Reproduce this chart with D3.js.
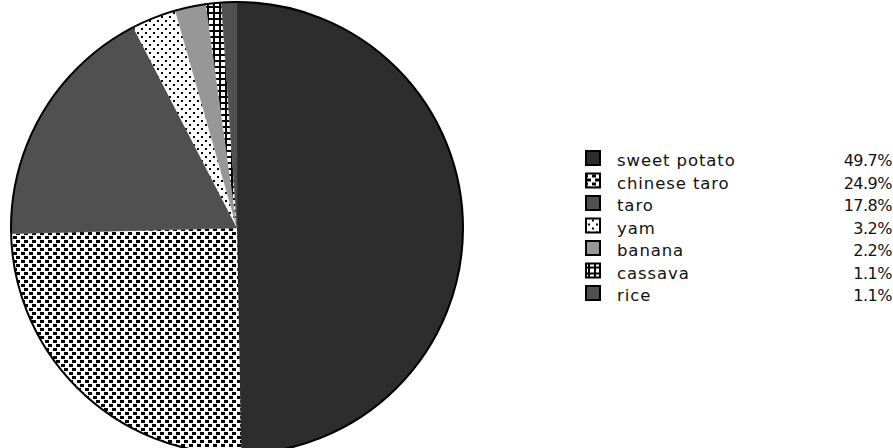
<!DOCTYPE html>
<html><head><meta charset="utf-8">
<script src="https://cdn.jsdelivr.net/npm/d3@7/dist/d3.min.js"></script>
<style>body{margin:0;background:#fff;}svg{display:block;}</style>
</head><body>
<svg id="chart" width="893" height="448"></svg>
<script>
const categories = ["sweet potato","chinese taro","taro","yam","banana","cassava","rice"];
const values = [49.7,24.9,17.8,3.2,2.2,1.1,1.1];
const labels = ["49.7%","24.9%","17.8%","3.2%","2.2%","1.1%","1.1%"];
const fills = ["#2d2d2d","url(#pChTaro)","#505050","url(#pYam)","#979797","url(#pCassava)","#505050"];

const svg = d3.select("#chart");
const defs = svg.append("defs");

// chinese taro pattern (offset bricks)
const p1 = defs.append("pattern").attr("id","pChTaro").attr("patternUnits","userSpaceOnUse")
  .attr("width",8).attr("height",8);
p1.append("rect").attr("width",8).attr("height",8).attr("fill","#fff");
[[0,0],[3,4],[-5,4]].forEach(([x,y])=>p1.append("rect").attr("x",x).attr("y",y).attr("width",4).attr("height",3).attr("fill","#000"));

// yam pattern
const p2 = defs.append("pattern").attr("id","pYam").attr("patternUnits","userSpaceOnUse")
  .attr("width",8).attr("height",8);
p2.append("rect").attr("width",8).attr("height",8).attr("fill","#fff");
[[0,0],[4,4]].forEach(([x,y])=>p2.append("rect").attr("x",x).attr("y",y).attr("width",2).attr("height",2).attr("fill","#000"));

// cassava grid
const p3 = defs.append("pattern").attr("id","pCassava").attr("patternUnits","userSpaceOnUse")
  .attr("width",6).attr("height",6);
p3.append("rect").attr("width",6).attr("height",6).attr("fill","#000");
p3.append("rect").attr("x",2).attr("y",2).attr("width",4).attr("height",4).attr("fill","#fff");

const cx = 237, cy = 228, r = 226;
const pie = d3.pie().sort(null).value(d=>d)(values);
const arc = d3.arc().innerRadius(0).outerRadius(r);
const g = svg.append("g").attr("transform",`translate(${cx},${cy})`);
g.selectAll("path.slice").data(pie).join("path").attr("class","slice")
  .attr("d",arc).attr("fill",(d,i)=>fills[i]).attr("stroke",(d,i)=>fills[i].startsWith("#")?fills[i]:"none").attr("stroke-width",0.5);
g.append("circle").attr("r",r).attr("fill","none").attr("stroke","#000").attr("stroke-width",2);

// legend
const y = d3.scalePoint().domain(categories).range([160,295]);
const lg = svg.append("g");
const rows = lg.selectAll("g").data(categories).join("g").attr("transform",d=>`translate(0,${y(d)})`);
rows.append("rect").attr("x",586).attr("y",-9).attr("width",14).attr("height",14)
  .attr("fill",(d,i)=>fills[i]).attr("stroke","#000").attr("stroke-width",2);
rows.append("text").attr("x",617).attr("y",6).text(d=>d)
  .attr("font-family","DejaVu Sans").attr("font-size",16.5).attr("letter-spacing",0.9).attr("fill","#111");
rows.append("text").attr("x",892).attr("y",6).attr("text-anchor","end").text((d,i)=>labels[i])
  .attr("font-family","DejaVu Sans").attr("font-size",16).attr("letter-spacing",-0.5).attr("fill","#111");
</script>
</body></html>
